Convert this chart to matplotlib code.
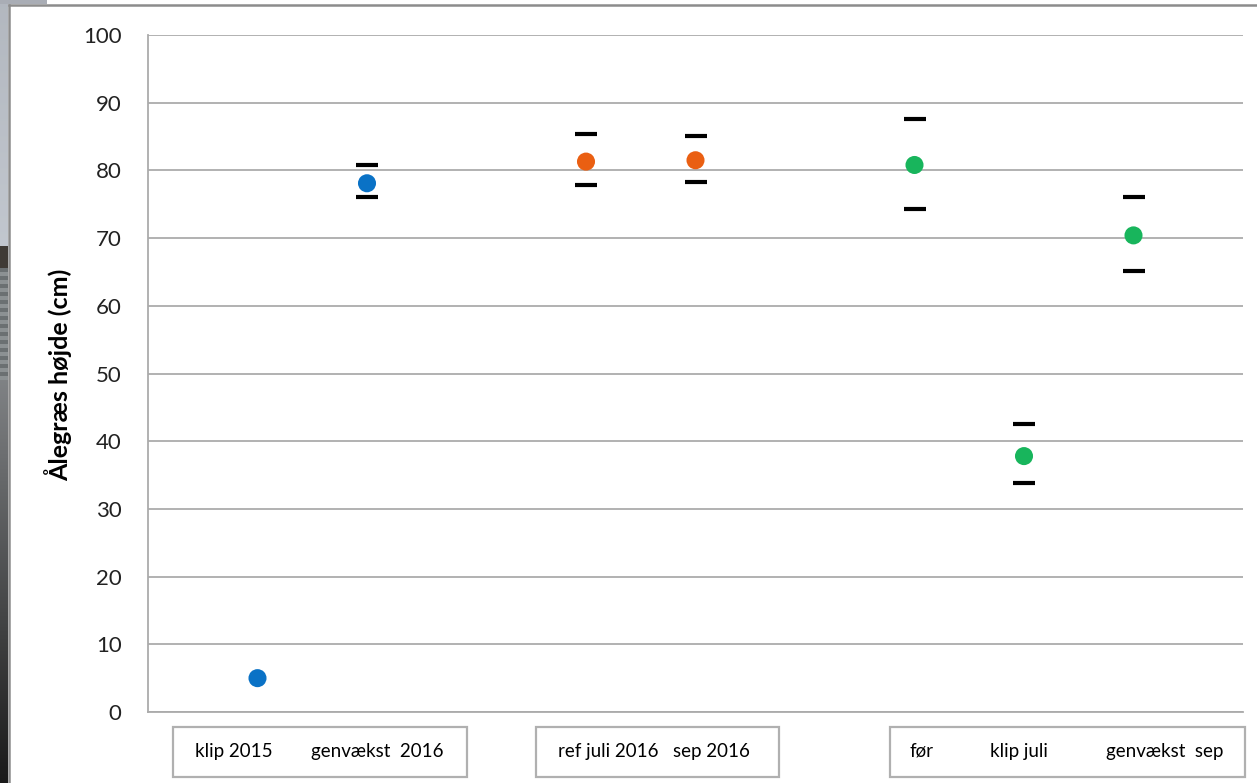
import numpy as np
import matplotlib
matplotlib.use("Agg")
import matplotlib.pyplot as plt
from matplotlib.patches import Rectangle
from matplotlib.lines import Line2D

plt.rcParams['font.family'] = ['Lato', 'DejaVu Sans']

# ---- data ----
groups = [
    ["klip 2015", "genvækst  2016"],
    ["ref juli 2016", "sep 2016"],
    ["før", "klip juli", "genvækst  sep"],
]
group_colors = ["#0A72C6", "#EA5F12", "#18B55C"]
means = [5.0, 78.1, 81.3, 81.5, 80.8, 37.8, 70.4]
upper = [np.nan, 80.8, 85.4, 85.1, 87.6, 42.5, 76.0]
lower = [np.nan, 76.0, 77.9, 78.3, 74.3, 33.8, 65.1]
y_ticks = list(range(0, 101, 10))
y_label = "Ålegræs højde (cm)"

W, H = 1257, 783
fig = plt.figure(figsize=(W / 100, H / 100), dpi=100)
fig.patch.set_facecolor("white")

# ---- positions: groups separated by one empty slot ----
xs, cols = [], []
pos = 0
for g, c in zip(groups, group_colors):
    for name in g:
        pos += 1
        xs.append(pos)
        cols.append(c)
    pos += 1
xs = np.array(xs, dtype=float)

ax = fig.add_axes([148 / W, 1 - 712 / H, (1243 - 148) / W, (712 - 35) / H])
ax.set_xlim(0, 10)
ax.set_ylim(0, 100)
ax.set_yticks(y_ticks)
ax.set_xticks([])
ax.yaxis.grid(True, color="#ababab", linewidth=1.3)
ax.set_axisbelow(True)
for s in ["top", "right"]:
    ax.spines[s].set_visible(False)
for s in ["left", "bottom"]:
    ax.spines[s].set_color("#ababab")
    ax.spines[s].set_linewidth(1.3)
ax.tick_params(axis="y", length=0, pad=19, labelsize=16, labelcolor="#222222")

# error caps (no vertical lines)
up = np.array(upper) - np.array(means)
lo = np.array(means) - np.array(lower)
ax.errorbar(xs, means, yerr=[lo, up], fmt="none", ecolor="black",
            elinewidth=0, capsize=7.9, capthick=3.0, zorder=3)
ax.scatter(xs, means, s=13 ** 2, c=cols, zorder=4, linewidths=0)

fig.text(58 / W, 1 - 375 / H, y_label, rotation=90, ha="center", va="center",
         fontsize=18, fontweight="bold", color="black")

# ---- category label boxes ----
box_px = [(173, 467), (536, 779), (890, 1245)]
text_centers = [[234, 377], [608, 711], [921, 1019, 1165]]
for (x0, x1), g, tc in zip(box_px, groups, text_centers):
    fig.patches.append(Rectangle((x0 / W, 1 - 777 / H), (x1 - x0) / W, 50 / H,
                                 transform=fig.transFigure, fill=False,
                                 edgecolor="#b0b0b0", linewidth=1.6))
    for name, cx in zip(g, tc):
        fig.text(cx / W, 1 - 751 / H, name, ha="center", va="center",
                 fontsize=13.5, color="black")

# ---- outer frame and background photo strip ----
fig.lines.append(Line2D([9 / W, 1], [1 - 5 / H, 1 - 5 / H], transform=fig.transFigure,
                        color="#8c8c8c", linewidth=1.8))
fig.lines.append(Line2D([9 / W, 9 / W], [0, 1 - 5 / H], transform=fig.transFigure,
                        color="#8c8c8c", linewidth=1.8))

strip = np.zeros((H, 1, 3))
for i in range(H):
    if i < 246:
        c = np.array([0.70, 0.72, 0.75]) + 0.06 * i / 246
    elif i < 268:
        c = np.array([0.25, 0.23, 0.21])
    elif i < 380:
        c = np.array([0.55, 0.57, 0.58]) if (i // 4) % 2 == 0 else np.array([0.42, 0.44, 0.45])
    else:
        t = (i - 380) / (H - 380)
        c = np.array([0.50, 0.51, 0.52]) * (1 - t) + np.array([0.10, 0.10, 0.10]) * t
    strip[i, 0] = c
bg = fig.add_axes([0, 0, 8 / W, 1])
bg.imshow(strip, aspect="auto", extent=[0, 1, 0, 1], origin="upper")
bg.axis("off")
bg2 = fig.add_axes([0, 1 - 4 / H, 47 / W, 4 / H])
bg2.set_facecolor("#a9adb5")
bg2.set_xticks([]); bg2.set_yticks([])
for s in bg2.spines.values():
    s.set_visible(False)

fig.savefig("out.png", dpi=100)
